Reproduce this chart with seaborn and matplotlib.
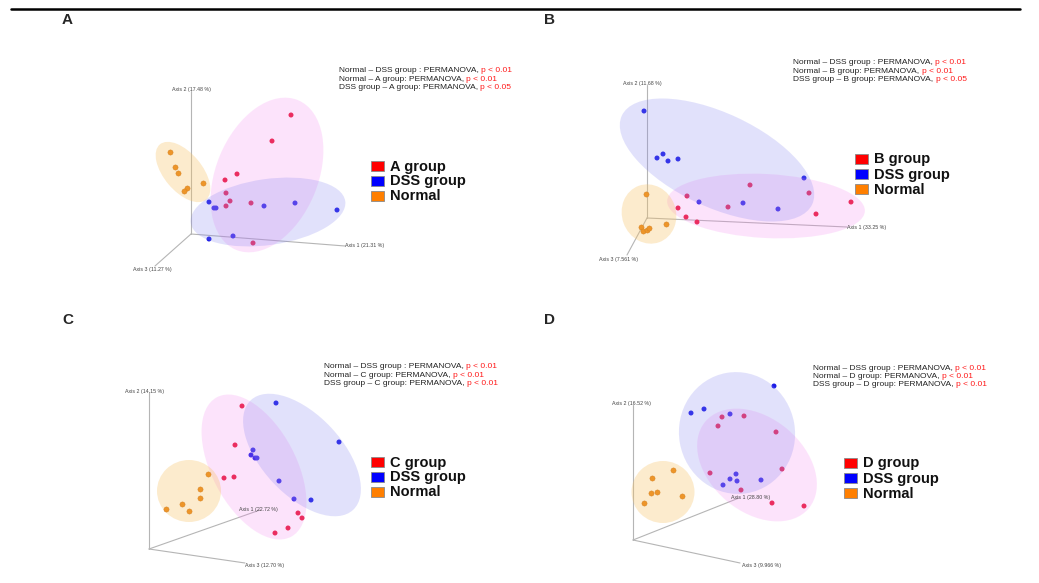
import numpy as np
import pandas as pd
import matplotlib
matplotlib.use("Agg")
import matplotlib.pyplot as plt
import seaborn as sns
from matplotlib.patches import Ellipse, Rectangle
from matplotlib.lines import Line2D

# ---------------- data (projected PCoA coordinates, origin = axes origin) ----------------
panel_letters = ["A", "B", "C", "D"]
treat_names = ["A group", "B group", "C group", "D group"]
axis1_labels = ["Axis 1 (21.31 %)", "Axis 1 (33.25 %)", "Axis 1 (22.72 %)", "Axis 1 (28.80 %)"]
axis2_labels = ["Axis 2 (17.48 %)", "Axis 2 (11.68 %)", "Axis 2 (14.15 %)", "Axis 2 (16.52 %)"]
axis3_labels = ["Axis 3 (11.27 %)", "Axis 3 (7.561 %)", "Axis 3 (12.70 %)", "Axis 3 (9.966 %)"]
p_nd = ["p < 0.01", "p < 0.01", "p < 0.01", "p < 0.01"]
p_nt = ["p < 0.01", "p < 0.01", "p < 0.01", "p < 0.01"]
p_dt = ["p < 0.05", "p < 0.05", "p < 0.01", "p < 0.01"]

A_trt_x = [100, 81, 46, 34, 35, 39, 35, 60, 62]
A_trt_y = [119, 93, 60, 54, 41, 33, 28, 31, -9]
A_dss_x = [18, 23, 25, 73, 104, 146, 42, 18]
A_dss_y = [32, 26, 26, 28, 31, 24, -2, -5]
A_nor_x = [-21, -16, -13, -4, -7, 12]
A_nor_y = [82, 67, 61, 46, 43, 51]

B_trt_x = [103, 162, 204, 169, 40, 31, 39, 50, 81]
B_trt_y = [33, 25, 16, 4, 22, 10, 1, -4, 11]
B_dss_x = [-3, 10, 16, 21, 31, 157, 52, 96, 131]
B_dss_y = [107, 60, 64, 57, 59, 40, 16, 15, 9]
B_nor_x = [-1, 19, -6, -4, 0, 2]
B_nor_y = [24, -6, -9, -13, -12, -10]

C_trt_x = [93, 86, 75, 85, 149, 153, 139, 126]
C_trt_y = [143, 104, 71, 72, 36, 31, 21, 16]
C_dss_x = [127, 190, 104, 102, 106, 108, 130, 145, 162]
C_dss_y = [146, 107, 99, 94, 91, 91, 68, 50, 49]
C_nor_x = [59, 51, 51, 33, 40, 17]
C_nor_y = [75, 60, 51, 45, 38, 40]

D_trt_x = [89, 111, 85, 143, 77, 149, 108, 139, 171]
D_trt_y = [123, 124, 114, 108, 67, 71, 50, 37, 34]
D_dss_x = [141, 58, 71, 97, 103, 97, 104, 90, 128]
D_dss_y = [154, 127, 131, 126, 66, 61, 59, 55, 60]
D_nor_x = [40, 19, 18, 24, 49, 11]
D_nor_y = [70, 62, 47, 48, 44, 37]

# confidence ellipses: order = treatment, DSS, Normal
A_ell_cx = [76, 77, -8];   A_ell_cy = [59, 22, 62]
A_ell_w = [162, 156, 72];  A_ell_h = [102, 66, 38];  A_ell_ang = [67.5, 8, -50]
B_ell_cx = [119, 70, 2];   B_ell_cy = [12, 58, 4]
B_ell_w = [198, 210, 60];  B_ell_h = [64, 94, 54];   B_ell_ang = [-3, -25, -70]
C_ell_cx = [105, 153, 40]; C_ell_cy = [82, 94, 58]
C_ell_w = [158, 150, 64];  C_ell_h = [84, 80, 62];   C_ell_ang = [-62, -47, 0]
D_ell_cx = [124, 104, 30]; D_ell_cy = [75, 107, 48]
D_ell_w = [135, 116, 63];  D_ell_h = [94, 122, 62];  D_ell_ang = [-40, 10, 0]

# ---------------- layout (pixels) ----------------
W, H = 1039, 583
origins = [(191, 234), (647, 218), (149, 549), (633, 540)]
quads = [(0, 0), (519.5, 0), (0, 291.5), (519.5, 291.5)]
axis1_end = [(154, -12), (200, -9), (111, 39), (106, 42)]
axis2_end = [(0, 143), (0, 133), (0, 157), (0, 135)]
axis3_end = [(-36, -32), (-20, -37), (96, -14), (107, -23)]
axis1_lab = [(154, -12), (200, -9), (90, 40), (98, 43)]
axis2_lab = [(-19, 145), (-24, 134), (-24, 157), (-21, 136)]
axis3_lab = [(-58, -35), (-48, -42), (96, -16), (109, -26)]
annot_pos = [(339, 71), (793, 63), (324, 367), (813, 368)]
legend_sq = [(371, 166), (855, 159), (371, 462), (844, 463)]
letter_pos = [(62, 20), (544, 20), (62, 320), (544, 320)]

pt_colors = {"trt": "#e8183a", "dss": "#1c1ce6", "nor": "#e8800e"}
ell_colors = ["#f57ef0", "#8585f0", "#f8c264"]
ell_alpha = [0.21, 0.24, 0.32]
leg_colors = ["#ff0000", "#0000ff", "#ff7f00"]

sns.set_style("white")
plt.rcParams["font.family"] = ["Liberation Sans", "DejaVu Sans"]

fig = plt.figure(figsize=(W / 100, H / 100), dpi=100)
fig.patch.set_facecolor("white")

fig.add_artist(Line2D([11 / W, 1020 / W], [1 - 8.7 / H] * 2, lw=1.8, color="black"))

data_sets = [
    (A_trt_x, A_trt_y, A_dss_x, A_dss_y, A_nor_x, A_nor_y),
    (B_trt_x, B_trt_y, B_dss_x, B_dss_y, B_nor_x, B_nor_y),
    (C_trt_x, C_trt_y, C_dss_x, C_dss_y, C_nor_x, C_nor_y),
    (D_trt_x, D_trt_y, D_dss_x, D_dss_y, D_nor_x, D_nor_y),
]
ell_sets = [
    (A_ell_cx, A_ell_cy, A_ell_w, A_ell_h, A_ell_ang),
    (B_ell_cx, B_ell_cy, B_ell_w, B_ell_h, B_ell_ang),
    (C_ell_cx, C_ell_cy, C_ell_w, C_ell_h, C_ell_ang),
    (D_ell_cx, D_ell_cy, D_ell_w, D_ell_h, D_ell_ang),
]

for i in range(4):
    qx, qy = quads[i]
    ox, oy = origins[i]
    ax = fig.add_axes([qx / W, 1 - (qy + 291.5) / H, 519.5 / W, 291.5 / H])
    ax.set_xlim(qx - ox, qx + 519.5 - ox)
    ax.set_ylim(oy - (qy + 291.5), oy - qy)
    ax.axis("off")

    tx, ty, dx, dy, nx, ny = data_sets[i]
    df = pd.DataFrame({
        "x": tx + dx + nx,
        "y": ty + dy + ny,
        "grp": ["trt"] * len(tx) + ["dss"] * len(dx) + ["nor"] * len(nx),
    })

    # 3D axes
    for end in (axis1_end[i], axis2_end[i], axis3_end[i]):
        ax.plot([0, end[0]], [0, end[1]], color="#b5b5b5", lw=0.8, zorder=1)
    for lab, pos in ((axis1_labels[i], axis1_lab[i]), (axis2_labels[i], axis2_lab[i]),
                     (axis3_labels[i], axis3_lab[i])):
        ax.text(pos[0], pos[1], lab, fontsize=3.8, color="#444444", ha="left", va="center", zorder=5)

    sns.scatterplot(data=df[df.grp != "nor"], x="x", y="y", hue="grp", palette=pt_colors, s=13,
                    marker="o", edgecolor=None, linewidth=0, legend=False, ax=ax, zorder=2)
    sns.scatterplot(data=df[df.grp == "nor"], x="x", y="y", color=pt_colors["nor"], s=14,
                    marker="o", edgecolor="#c06000", linewidth=0.3, legend=False, ax=ax, zorder=2)

    cx, cy, ew, eh, ea = ell_sets[i]
    for k in range(3):
        ax.add_patch(Ellipse((cx[k], cy[k]), ew[k], eh[k], angle=ea[k],
                             facecolor=ell_colors[k], alpha=ell_alpha[k], edgecolor="none", zorder=3))

    # annotations
    ax_x, ax_y = annot_pos[i]
    lines = [
        ("Normal \u2013 DSS group : PERMANOVA, ", p_nd[i]),
        ("Normal \u2013 %s: PERMANOVA, " % treat_names[i], p_nt[i]),
        ("DSS group \u2013 %s: PERMANOVA, " % treat_names[i], p_dt[i]),
    ]
    for j, (blk, red) in enumerate(lines):
        t = ax.text(ax_x - ox, oy - (ax_y + j * 8.3), blk, fontsize=6.0, color="#222222",
                    ha="left", va="center", zorder=5)
        ax.annotate(red, xy=(1, 0.5), xycoords=t, fontsize=6.0, color="#ff1a1a",
                    ha="left", va="center", zorder=5)

    # legend
    lx, ly = legend_sq[i]
    names = [treat_names[i], "DSS group", "Normal"]
    for k in range(3):
        yc = ly + k * 15
        ax.add_patch(Rectangle((lx - ox, oy - yc - 5.2), 12.5, 10.4, facecolor=leg_colors[k],
                               edgecolor="#8a8a8a", lw=0.6, zorder=5))
        ax.text(lx + 19 - ox, oy - yc - 0.5, names[k], fontsize=10.5, fontweight="bold",
                color="#111111", ha="left", va="center", zorder=5)

    fig.text(letter_pos[i][0] / W, 1 - letter_pos[i][1] / H, panel_letters[i], fontsize=11,
             fontweight="bold", ha="left", va="center")

fig.savefig("out.png", dpi=100, facecolor="white")
